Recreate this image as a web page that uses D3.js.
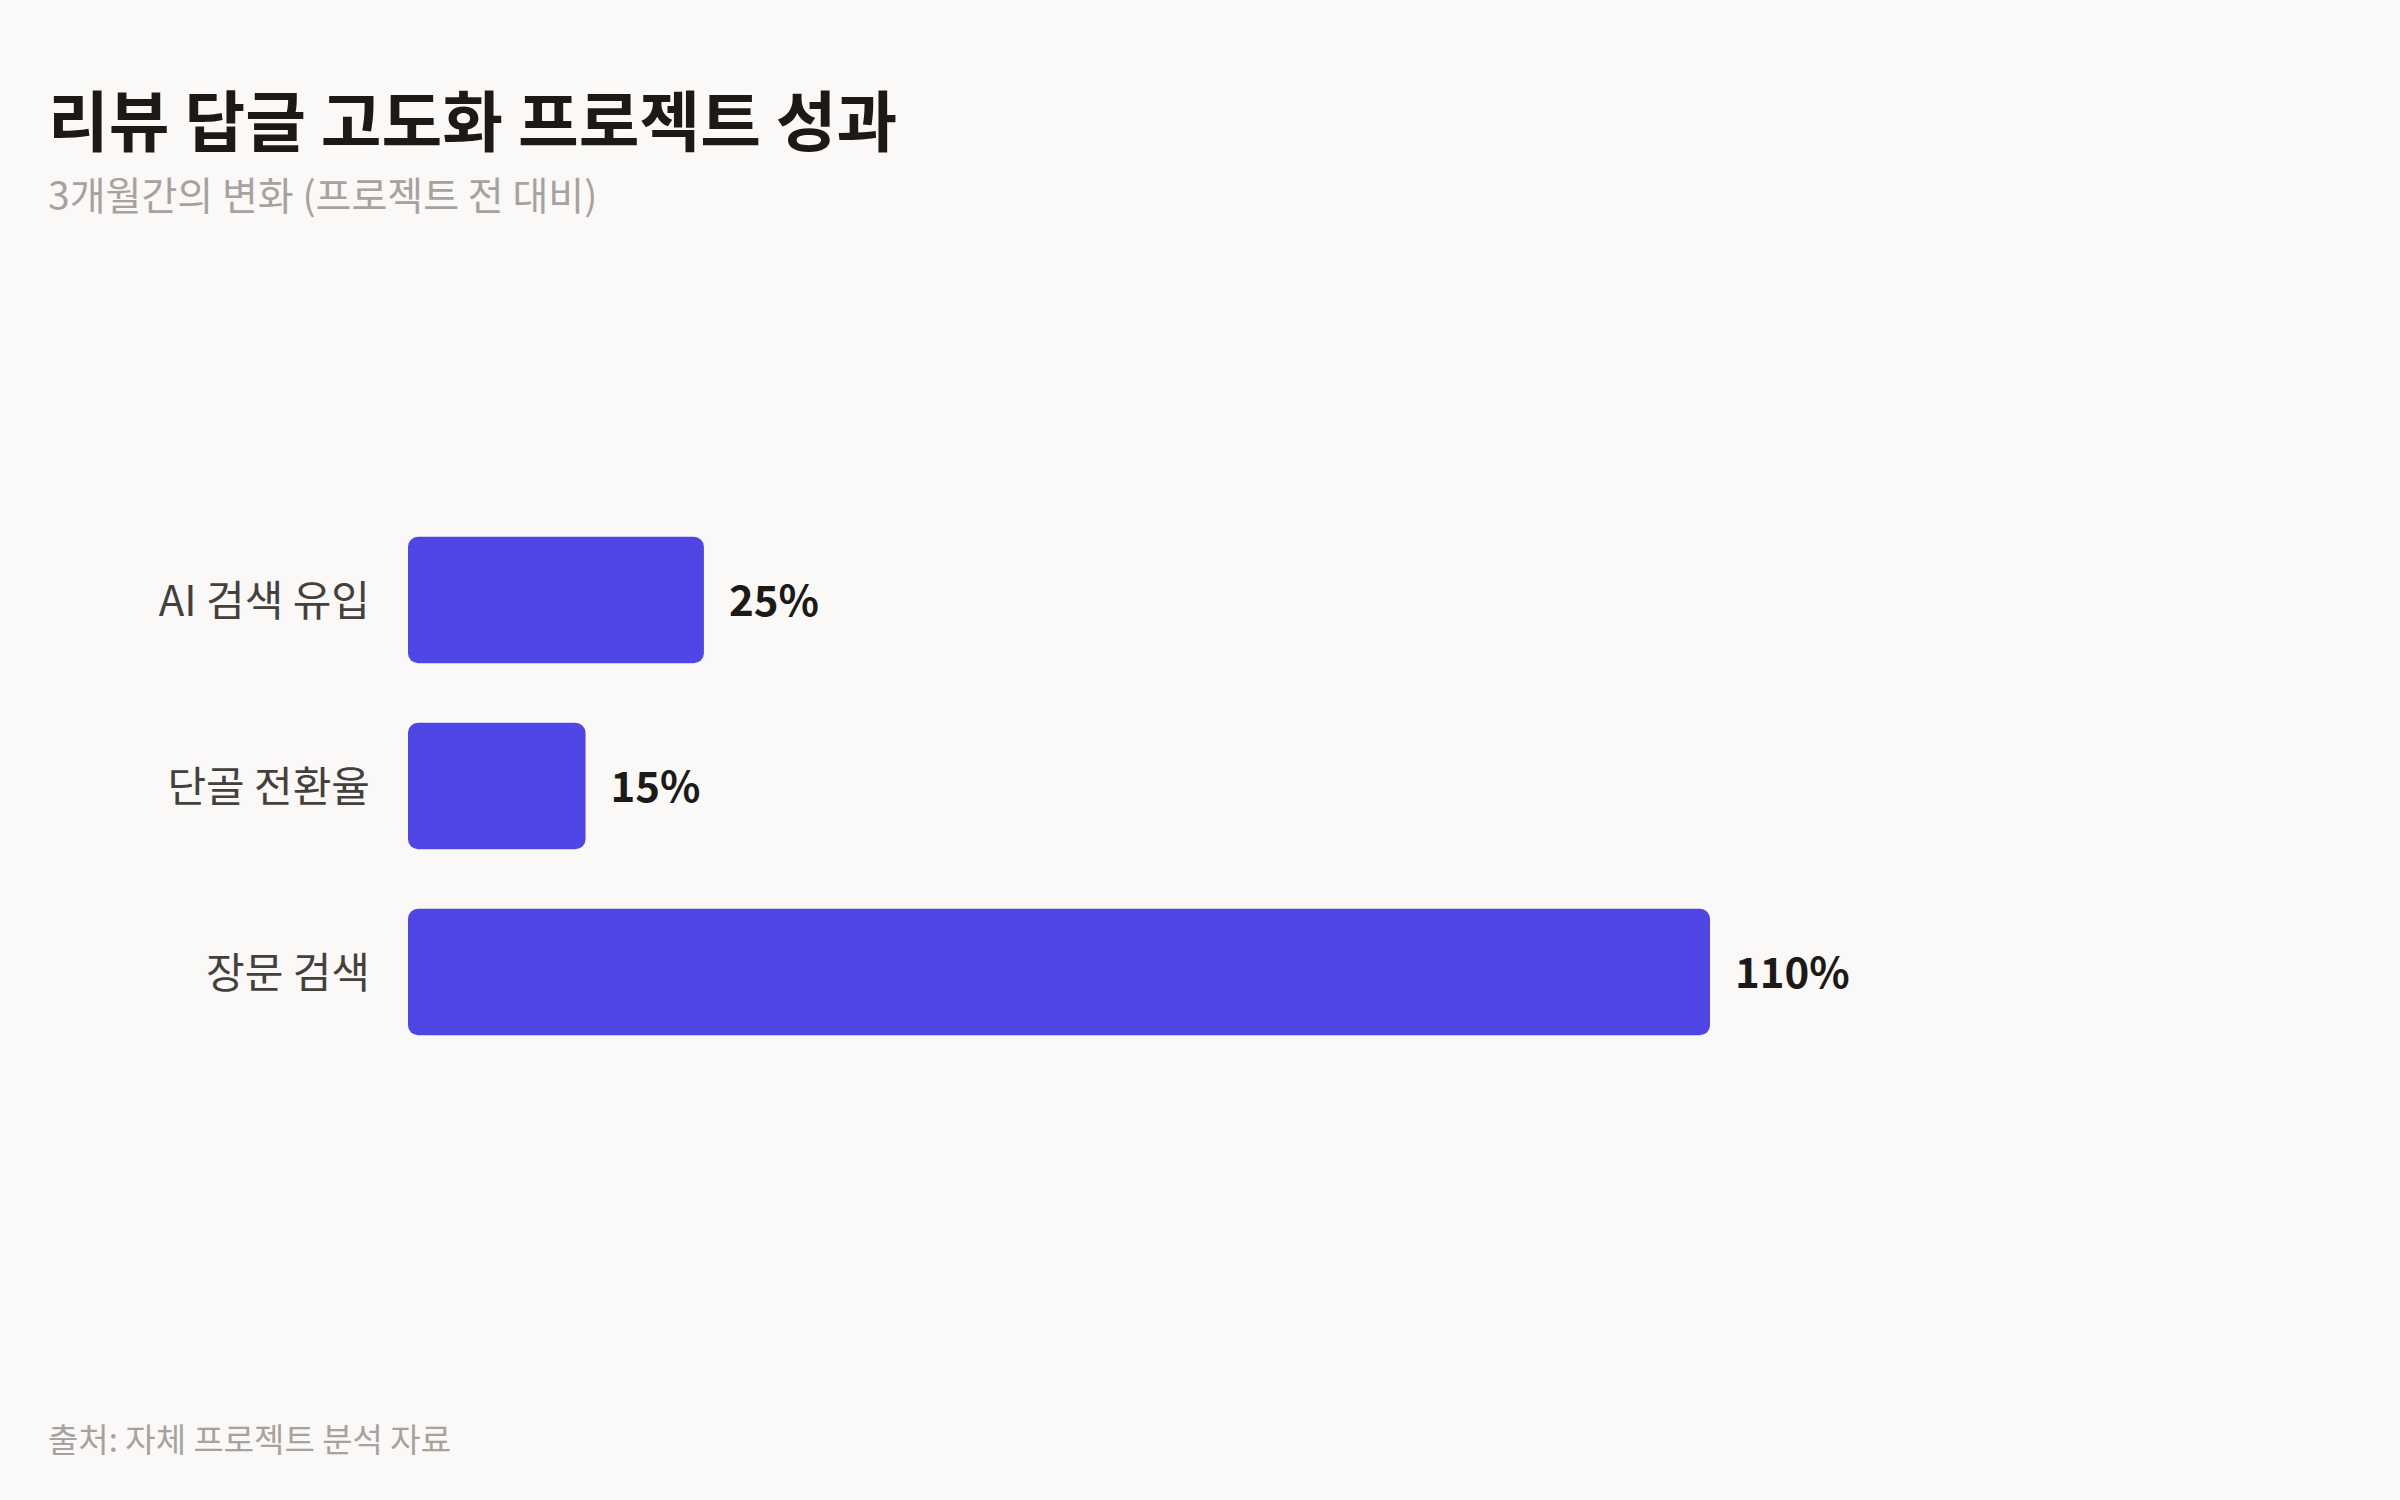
<!DOCTYPE html>
<html><head><meta charset="utf-8">
<script src="https://cdn.jsdelivr.net/npm/d3@7"></script>
<style>html,body{margin:0;padding:0;background:#faf9f7;}svg{display:block;}</style>
</head><body><svg id="c" width="2400" height="1500"></svg>
<script>
const categories = ["AI 검색 유입", "단골 전환율", "장문 검색"];
const values = [25, 15, 110];
const valueLabels = ["25%", "15%", "110%"];
const titleText = "리뷰 답글 고도화 프로젝트 성과";
const subtitleText = "3개월간의 변화 (프로젝트 전 대비)";
const sourceText = "출처: 자체 프로젝트 분석 자료";

const font = "'Noto Sans CJK KR','Noto Sans',sans-serif";
const svg = d3.select("#c");
svg.append("rect").attr("width",2400).attr("height",1500).attr("fill","#faf9f7");

const x = d3.scaleLinear().domain([0, 110]).range([408, 1710]);
const y = d3.scaleBand().domain(categories).range([507, 1065]).paddingInner(0.32).paddingOuter(0.16);

svg.append("text").attr("x",48).attr("y",146).attr("font-family",font).attr("font-weight",700)
  .attr("font-size",66).attr("fill","#1c1917").text(titleText);
svg.append("text").attr("x",48).attr("y",210).attr("font-family",font).attr("font-weight",400)
  .attr("font-size",39).attr("fill","#a8a29e").text(subtitleText);
svg.append("text").attr("x",48).attr("y",1452).attr("font-family",font).attr("font-weight",400)
  .attr("font-size",33).attr("fill","#a8a29e").text(sourceText);

const g = svg.append("g");
g.selectAll("rect.bar").data(categories).join("rect").attr("class","bar")
  .attr("x", x(0)).attr("y", d => y(d))
  .attr("width", (d,i) => x(values[i]) - x(0)).attr("height", y.bandwidth())
  .attr("rx", 10).attr("fill", "#4f46e5");

g.selectAll("text.cat").data(categories).join("text").attr("class","cat")
  .attr("x", x(0) - 38).attr("y", d => y(d) + y.bandwidth()/2 - 3)
  .attr("text-anchor","end").attr("dominant-baseline","central")
  .attr("font-family",font).attr("font-size",42).attr("fill","#44403c").text(d => d);

g.selectAll("text.val").data(categories).join("text").attr("class","val")
  .attr("x", (d,i) => x(values[i]) + 25).attr("y", d => y(d) + y.bandwidth()/2 - 3)
  .attr("dominant-baseline","central")
  .attr("font-family",font).attr("font-weight",700).attr("font-size",42).attr("fill","#1c1917")
  .text((d,i) => valueLabels[i]);
</script></body></html>
